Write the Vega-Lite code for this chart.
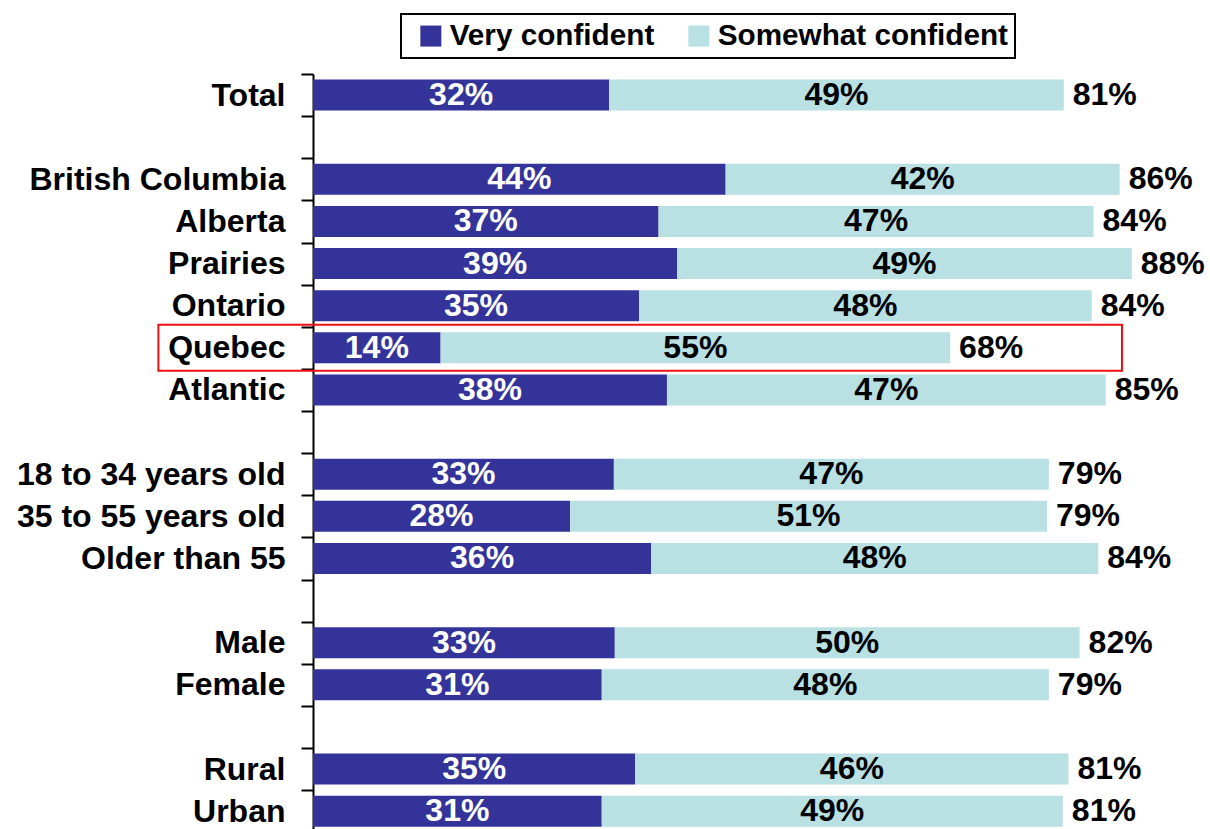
{
  "$schema": "https://vega.github.io/schema/vega-lite/v6.json",
  "usermeta": {"embedOptions": {"actions": false}},
  "width": 897,
  "height": 755,
  "autosize": {"type": "none"},
  "padding": {"left": 313, "top": 74, "right": 0, "bottom": 0},
  "config": {
    "view": {"stroke": null},
    "font": "Liberation Sans",
    "legend": {"strokeWidth": 2}
  },
  "datasets": {
    "segments": [
      {"group": "Total", "series": "Very confident", "value": 31.8, "label": "32%"},
      {"group": "Total", "series": "Somewhat confident", "value": 48.8, "label": "49%"},
      {"group": "British Columbia", "series": "Very confident", "value": 44.3, "label": "44%"},
      {"group": "British Columbia", "series": "Somewhat confident", "value": 42.3, "label": "42%"},
      {"group": "Alberta", "series": "Very confident", "value": 37.1, "label": "37%"},
      {"group": "Alberta", "series": "Somewhat confident", "value": 46.7, "label": "47%"},
      {"group": "Prairies", "series": "Very confident", "value": 39.1, "label": "39%"},
      {"group": "Prairies", "series": "Somewhat confident", "value": 48.8, "label": "49%"},
      {"group": "Ontario", "series": "Very confident", "value": 35.0, "label": "35%"},
      {"group": "Ontario", "series": "Somewhat confident", "value": 48.6, "label": "48%"},
      {"group": "Quebec", "series": "Very confident", "value": 13.7, "label": "14%"},
      {"group": "Quebec", "series": "Somewhat confident", "value": 54.7, "label": "55%"},
      {"group": "Atlantic", "series": "Very confident", "value": 38.0, "label": "38%"},
      {"group": "Atlantic", "series": "Somewhat confident", "value": 47.1, "label": "47%"},
      {"group": "18 to 34 years old", "series": "Very confident", "value": 32.3, "label": "33%"},
      {"group": "18 to 34 years old", "series": "Somewhat confident", "value": 46.7, "label": "47%"},
      {"group": "35 to 55 years old", "series": "Very confident", "value": 27.6, "label": "28%"},
      {"group": "35 to 55 years old", "series": "Somewhat confident", "value": 51.2, "label": "51%"},
      {"group": "Older than 55", "series": "Very confident", "value": 36.3, "label": "36%"},
      {"group": "Older than 55", "series": "Somewhat confident", "value": 48.0, "label": "48%"},
      {"group": "Male", "series": "Very confident", "value": 32.4, "label": "33%"},
      {"group": "Male", "series": "Somewhat confident", "value": 49.9, "label": "50%"},
      {"group": "Female", "series": "Very confident", "value": 31.0, "label": "31%"},
      {"group": "Female", "series": "Somewhat confident", "value": 48.0, "label": "48%"},
      {"group": "Rural", "series": "Very confident", "value": 34.6, "label": "35%"},
      {"group": "Rural", "series": "Somewhat confident", "value": 46.5, "label": "46%"},
      {"group": "Urban", "series": "Very confident", "value": 31.0, "label": "31%"},
      {"group": "Urban", "series": "Somewhat confident", "value": 49.5, "label": "49%"}
    ],
    "totals": [
      {"group": "Total", "total": 80.6, "label": "81%"},
      {"group": "British Columbia", "total": 86.6, "label": "86%"},
      {"group": "Alberta", "total": 83.8, "label": "84%"},
      {"group": "Prairies", "total": 87.9, "label": "88%"},
      {"group": "Ontario", "total": 83.6, "label": "84%"},
      {"group": "Quebec", "total": 68.4, "label": "68%"},
      {"group": "Atlantic", "total": 85.1, "label": "85%"},
      {"group": "18 to 34 years old", "total": 79.0, "label": "79%"},
      {"group": "35 to 55 years old", "total": 78.8, "label": "79%"},
      {"group": "Older than 55", "total": 84.3, "label": "84%"},
      {"group": "Male", "total": 82.3, "label": "82%"},
      {"group": "Female", "total": 79.0, "label": "79%"},
      {"group": "Rural", "total": 81.1, "label": "81%"},
      {"group": "Urban", "total": 80.5, "label": "81%"}
    ]
  },
  "layer": [
    {
      "data": {"name": "segments"},
      "mark": {"type": "bar", "size": 31},
      "encoding": {
        "y": {
          "field": "group",
          "type": "nominal",
          "title": null,
          "scale": {
            "domain": ["Total", " ", "British Columbia", "Alberta", "Prairies", "Ontario", "Quebec", "Atlantic", "  ", "18 to 34 years old", "35 to 55 years old", "Older than 55", "   ", "Male", "Female", "    ", "Rural", "Urban"],
            "range": [0, 758.25],
            "paddingInner": 0,
            "paddingOuter": 0
          },
          "axis": {
            "domainColor": "#000000",
            "domainWidth": 2,
            "tickColor": "#000000",
            "tickWidth": 2,
            "tickSize": 12,
            "tickBand": "extent",
            "labelFont": "Liberation Sans",
            "labelFontSize": 32,
            "labelFontWeight": "bold",
            "labelColor": "#000000",
            "labelPadding": 16,
            "labelLimit": 400,
            "grid": false
          }
        },
        "x": {
          "field": "value",
          "type": "quantitative",
          "stack": "zero",
          "scale": {"domain": [0, 96.3], "nice": false},
          "axis": null
        },
        "color": {
          "field": "series",
          "type": "nominal",
          "scale": {"domain": ["Very confident", "Somewhat confident"], "range": ["#333399", "#b9e0e2"]},
          "legend": {
            "orient": "none",
            "legendX": 88,
            "legendY": -60,
            "direction": "horizontal",
            "title": null,
            "labelFont": "Liberation Sans",
            "labelFontSize": 29.7,
            "labelFontWeight": "bold",
            "labelColor": "#000000",
            "labelLimit": 500,
            "symbolType": "square",
            "symbolSize": 441,
            "symbolStrokeWidth": 0,
            "symbolOpacity": 1,
            "symbolOffset": 8,
            "labelOffset": 4,
            "columnPadding": 21,
            "padding": 7,
            "strokeColor": "#000000"
          }
        },
        "order": {"field": "series", "sort": "descending"}
      }
    },
    {
      "data": {"name": "segments"},
      "mark": {"type": "text", "font": "Liberation Sans", "fontSize": 32, "fontWeight": "bold", "baseline": "middle", "align": "center"},
      "encoding": {
        "y": {"field": "group", "type": "nominal"},
        "x": {"field": "value", "type": "quantitative", "stack": "zero", "bandPosition": 0.5},
        "detail": {"field": "series"},
        "order": {"field": "series", "sort": "descending"},
        "text": {"field": "label"},
        "color": {
          "condition": {"test": "datum.series === 'Very confident'", "value": "#ffffff"},
          "value": "#000000"
        }
      }
    },
    {
      "data": {"name": "totals"},
      "mark": {"type": "text", "font": "Liberation Sans", "fontSize": 32, "fontWeight": "bold", "baseline": "middle", "align": "left", "dx": 9, "color": "#000000"},
      "encoding": {
        "y": {"field": "group", "type": "nominal"},
        "x": {"field": "total", "type": "quantitative"},
        "text": {"field": "label"}
      }
    },
    {
      "data": {"values": [{}]},
      "mark": {"type": "bar", "filled": false, "stroke": "#ee1111", "strokeWidth": 2, "size": 46},
      "encoding": {
        "y": {"datum": "Quebec", "type": "nominal"},
        "x": {"datum": -16.6, "type": "quantitative", "scale": {"domain": [0, 96.3], "nice": false}},
        "x2": {"datum": 86.85}
      }
    }
  ]
}
